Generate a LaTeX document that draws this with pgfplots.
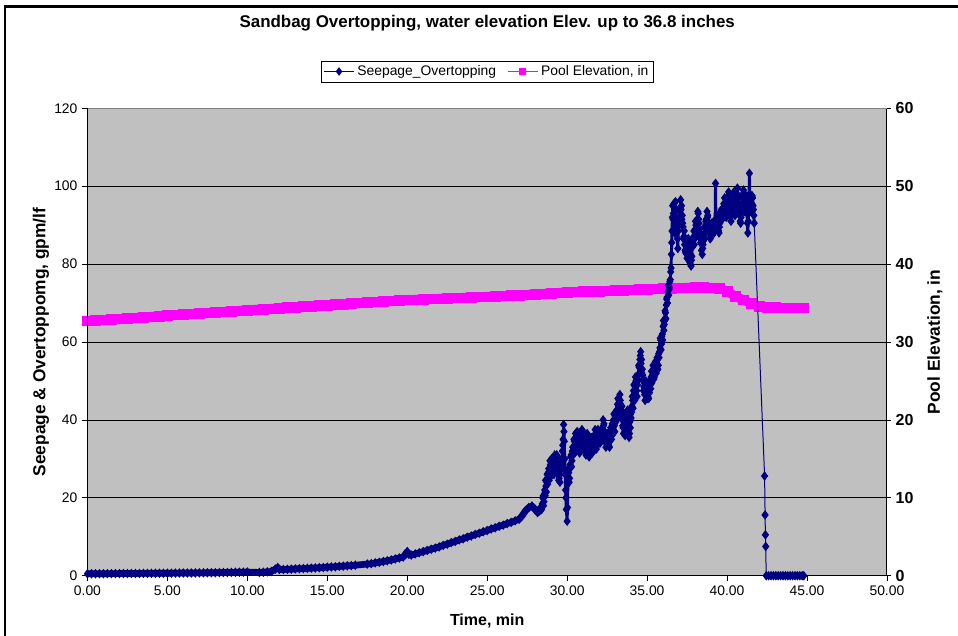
\documentclass[border=0pt]{standalone}
\usepackage{fontspec}
\setmainfont{Liberation Sans}
\usepackage{pgfplots}
\usepackage{pgfplotstable}
\pgfplotsset{compat=1.18}
\definecolor{xlnavy}{RGB}{0,0,128}
\definecolor{xlpink}{RGB}{255,0,255}
\definecolor{xlgray}{RGB}{192,192,192}

% pool elevation, inches
\pgfplotstableread{
t elev
0.0 32.70
0.5 32.77
1.0 32.84
1.5 32.91
2.0 32.98
2.5 33.05
3.0 33.12
3.5 33.19
4.0 33.26
4.5 33.33
5.0 33.40
5.5 33.47
6.0 33.54
6.5 33.61
7.0 33.68
7.5 33.75
8.0 33.82
8.5 33.89
9.0 33.96
9.5 34.03
10.0 34.10
10.5 34.16
11.0 34.23
11.5 34.29
12.0 34.36
12.5 34.42
13.0 34.49
13.5 34.55
14.0 34.62
14.5 34.68
15.0 34.75
15.5 34.81
16.0 34.88
16.5 34.94
17.0 35.01
17.5 35.07
18.0 35.14
18.5 35.20
19.0 35.27
19.5 35.33
20.0 35.40
20.5 35.44
21.0 35.49
21.5 35.53
22.0 35.57
22.5 35.61
23.0 35.66
23.5 35.70
24.0 35.74
24.5 35.79
25.0 35.83
25.5 35.87
26.0 35.91
26.5 35.96
27.0 36.00
27.5 36.07
28.0 36.13
28.5 36.20
29.0 36.27
29.5 36.33
30.0 36.40
30.5 36.44
31.0 36.48
31.5 36.52
32.0 36.55
32.5 36.59
33.0 36.63
33.5 36.67
34.0 36.71
34.5 36.75
35.0 36.79
35.5 36.82
36.0 36.86
36.5 36.90
37.0 36.95
37.5 36.98
38.0 37.00
38.5 37.00
39.0 36.98
39.5 36.92
40.0 36.50
40.5 35.90
41.0 35.40
41.5 35.00
42.0 34.60
42.5 34.45
43.0 34.42
43.5 34.40
44.0 34.40
44.5 34.40
44.8 34.40
}\pool

% seepage and overtopping, gpm/lf
\pgfplotstableread{
t q
0.00 0.50
0.25 0.50
0.50 0.51
0.75 0.52
1.00 0.52
1.25 0.53
1.50 0.54
1.75 0.55
2.00 0.55
2.25 0.56
2.50 0.57
2.75 0.58
3.00 0.58
3.25 0.59
3.50 0.60
3.75 0.61
4.00 0.61
4.25 0.62
4.50 0.63
4.75 0.64
5.00 0.65
5.25 0.66
5.50 0.67
5.75 0.68
6.00 0.69
6.25 0.70
6.50 0.71
6.75 0.72
7.00 0.73
7.25 0.74
7.50 0.76
7.75 0.77
8.00 0.78
8.25 0.80
8.50 0.82
8.75 0.84
9.00 0.86
9.25 0.88
9.50 0.90
9.75 0.92
10.00 0.95
10.75 0.85
11.00 0.90
11.25 1.00
11.50 1.10
11.75 1.70
11.90 2.10
12.00 1.60
12.25 1.60
12.50 1.65
12.75 1.70
13.00 1.75
13.25 1.80
13.50 1.85
13.75 1.90
14.00 1.95
14.25 2.00
14.50 2.05
14.75 2.10
15.00 2.20
15.25 2.25
15.50 2.30
15.75 2.40
16.00 2.45
16.25 2.55
16.50 2.60
16.75 2.70
17.50 3.00
17.75 3.10
18.00 3.30
18.25 3.45
18.50 3.65
18.75 3.85
19.00 4.05
19.25 4.30
19.50 4.55
19.75 4.80
19.90 5.60
20.00 6.20
20.10 5.50
20.25 5.30
20.50 5.60
20.75 5.90
21.00 6.20
21.25 6.50
21.50 6.80
21.75 7.10
22.00 7.40
22.25 7.80
22.50 8.10
22.75 8.50
23.00 8.80
23.25 9.20
23.50 9.50
23.75 9.90
24.00 10.20
24.25 10.60
24.50 10.90
24.75 11.30
25.00 11.60
25.25 12.00
25.50 12.30
25.75 12.70
26.00 13.00
26.25 13.40
26.50 13.70
26.75 14.10
27.00 14.50
27.20 15.50
27.40 16.70
27.60 17.50
27.80 17.90
28.00 17.00
28.15 16.20
28.25 16.60
28.35 17.50
28.400 17.0
28.425 18.0
28.450 18.5
28.475 20.0
28.500 20.5
28.525 18.0
28.550 19.0
28.575 21.0
28.600 22.0
28.625 20.5
28.650 24.5
28.675 23.0
28.700 21.5
28.725 24.0
28.750 26.0
28.775 23.5
28.800 25.0
28.825 26.5
28.850 27.5
28.875 24.5
28.900 26.0
28.925 29.5
28.950 28.5
28.975 25.5
29.000 27.0
29.025 30.0
29.050 29.0
29.075 26.5
29.100 27.5
29.125 29.5
29.150 30.0
29.175 26.0
29.200 28.0
29.225 31.0
29.250 30.5
29.275 27.5
29.300 29.0
29.325 30.5
29.350 31.0
29.375 29.0
29.400 28.5
29.425 26.0
29.450 27.0
29.475 24.5
29.500 25.0
29.525 27.0
29.550 24.0
29.575 26.0
29.600 27.5
29.625 29.0
29.650 30.0
29.675 28.0
29.700 32.0
29.725 33.5
29.750 35.0
29.780 38.8
29.800 37.0
29.820 34.5
29.850 30.0
29.870 27.0
29.880 26.0
29.900 22.0
29.925 20.0
29.950 17.0
30.000 14.0
30.020 17.5
30.050 24.0
30.075 27.5
30.100 26.5
30.125 24.0
30.150 25.0
30.175 28.5
30.200 28.0
30.225 30.5
30.250 31.0
30.275 28.0
30.300 29.5
30.325 32.0
30.350 33.0
30.375 31.0
30.400 32.0
30.425 35.0
30.450 34.5
30.475 31.5
30.500 33.0
30.525 36.5
30.550 35.5
30.575 32.5
30.600 34.0
30.625 37.0
30.650 36.0
30.675 33.0
30.700 33.5
30.725 36.5
30.750 35.0
30.775 31.5
30.800 32.5
30.825 35.5
30.850 34.0
30.875 33.0
30.900 36.5
30.925 37.5
30.950 35.0
30.975 33.5
31.000 37.0
31.025 36.0
31.050 35.5
31.075 32.5
31.100 33.5
31.125 35.0
31.150 32.0
31.175 31.0
31.200 34.5
31.225 35.5
31.250 36.5
31.275 33.5
31.300 35.0
31.325 34.0
31.350 32.5
31.375 30.5
31.400 31.0
31.425 32.0
31.450 33.0
31.475 35.0
31.500 35.5
31.525 33.0
31.550 34.0
31.575 31.5
31.600 32.0
31.625 34.5
31.650 33.5
31.675 35.5
31.700 36.0
31.725 34.5
31.750 37.5
31.775 36.5
31.800 35.0
31.825 32.5
31.850 33.5
31.875 35.5
31.900 35.0
31.925 37.5
31.950 36.5
31.975 34.5
32.000 36.0
32.025 35.0
32.050 34.0
32.075 36.0
32.100 37.0
32.125 34.5
32.150 35.5
32.175 37.5
32.200 38.0
32.225 36.5
32.250 40.0
32.275 38.5
32.300 39.0
32.325 36.0
32.350 37.0
32.375 34.5
32.400 35.0
32.425 33.0
32.450 34.0
32.475 35.5
32.500 36.5
32.525 34.0
32.550 35.0
32.575 33.5
32.600 33.5
32.625 36.0
32.650 33.0
32.675 35.5
32.700 35.0
32.725 38.0
32.750 37.5
32.775 35.0
32.800 36.0
32.825 39.0
32.850 38.0
32.875 36.5
32.900 40.0
32.925 41.5
32.950 38.5
32.975 37.0
33.000 41.0
33.025 42.0
33.050 39.5
33.075 40.5
33.100 42.5
33.125 41.0
33.150 44.0
33.175 45.5
33.200 42.0
33.225 43.5
33.250 45.0
33.275 43.0
33.300 46.5
33.325 45.0
33.350 44.0
33.375 41.0
33.400 42.5
33.425 43.5
33.450 40.0
33.475 38.5
33.500 38.0
33.525 36.5
33.550 40.5
33.575 41.5
33.600 39.0
33.625 36.0
33.650 37.0
33.675 40.0
33.700 38.5
33.725 37.0
33.750 41.0
33.775 42.5
33.800 39.5
33.825 38.5
33.850 37.5
33.875 35.5
33.900 36.5
33.925 39.5
33.950 38.0
33.975 41.5
34.000 40.5
34.025 42.0
34.050 43.5
34.075 46.0
34.100 45.0
34.125 43.0
34.150 47.5
34.175 49.0
34.200 46.0
34.225 45.0
34.250 48.5
34.275 51.0
34.300 50.0
34.325 49.0
34.350 47.5
34.375 46.0
34.400 49.0
34.425 50.0
34.450 51.5
34.475 54.0
34.500 53.5
34.525 52.0
34.550 55.5
34.575 56.5
34.600 57.5
34.625 54.5
34.650 55.5
34.675 52.0
34.700 53.0
34.725 51.5
34.750 50.5
34.775 47.5
34.800 48.5
34.825 49.5
34.850 46.5
34.875 45.0
34.900 47.5
34.925 50.0
34.950 49.5
34.975 47.0
35.000 48.0
35.025 45.5
35.050 46.0
35.075 48.0
35.100 45.5
35.125 49.0
35.150 47.0
35.175 50.0
35.200 49.0
35.225 48.0
35.250 51.0
35.275 52.5
35.300 49.5
35.325 50.5
35.350 51.5
35.375 54.0
35.400 53.0
35.425 50.5
35.450 51.0
35.475 53.5
35.500 52.5
35.525 55.0
35.550 54.5
35.575 52.0
35.600 53.0
35.625 56.0
35.650 55.5
35.675 53.0
35.700 54.0
35.725 57.0
35.750 56.0
35.775 57.5
35.800 58.5
35.825 61.0
35.850 60.5
35.875 58.0
35.900 59.5
35.925 61.5
35.950 62.0
35.975 60.5
36.000 64.0
36.025 65.5
36.050 63.0
36.075 64.5
36.100 65.5
36.125 68.0
36.150 67.5
36.175 66.0
36.200 69.5
36.225 71.0
36.250 71.5
36.275 70.0
36.300 73.0
36.325 74.5
36.350 72.0
36.375 73.5
36.400 74.0
36.425 75.5
36.450 76.0
36.475 78.0
36.500 79.0
36.520 82.5
36.540 85.5
36.560 88.5
36.580 92.0
36.600 95.0
36.625 91.5
36.650 93.0
36.675 95.5
36.700 91.0
36.725 88.0
36.750 94.5
36.775 96.0
36.800 92.0
36.825 90.0
36.850 89.0
36.875 91.5
36.900 86.5
36.925 84.0
36.950 88.5
36.975 90.5
37.000 91.5
37.025 93.5
37.050 94.0
37.075 92.0
37.100 96.5
37.125 94.0
37.150 95.0
37.175 91.5
37.200 92.5
37.225 90.5
37.250 89.5
37.275 86.5
37.300 87.0
37.325 88.5
37.350 85.0
37.375 83.5
37.400 83.0
37.425 86.5
37.450 85.5
37.475 82.5
37.500 81.5
37.525 83.0
37.550 84.0
37.575 86.5
37.600 86.0
37.625 84.0
37.650 82.5
37.675 80.5
37.700 80.0
37.725 82.5
37.750 79.5
37.775 81.0
37.800 82.0
37.825 85.0
37.850 84.5
37.875 86.0
37.900 87.0
37.925 88.5
37.950 85.0
37.975 86.5
38.000 88.5
38.025 91.0
38.050 90.0
38.075 88.0
38.100 87.5
38.125 89.5
38.150 91.0
38.175 93.5
38.200 93.0
38.225 91.5
38.250 90.5
38.275 89.0
38.300 88.0
38.325 86.5
38.350 85.5
38.375 87.0
38.400 83.5
38.425 85.0
38.450 82.5
38.475 84.0
38.500 85.0
38.525 86.0
38.550 87.5
38.575 89.5
38.600 86.5
38.625 88.0
38.650 89.0
38.675 91.0
38.700 91.5
38.725 90.0
38.750 93.5
38.775 92.0
38.800 92.5
38.825 90.5
38.850 90.0
38.875 88.0
38.900 88.5
38.925 90.0
38.950 86.5
38.975 87.0
39.000 88.0
39.025 90.5
39.050 89.5
39.075 88.5
39.100 87.5
39.125 89.5
39.150 89.0
39.175 91.0
39.200 90.5
39.225 88.5
39.250 89.0
39.280 100.7
39.310 89.5
39.330 90.5
39.350 91.0
39.375 89.5
39.400 92.5
39.425 91.0
39.450 90.0
39.475 88.5
39.500 88.0
39.525 89.5
39.550 90.5
39.575 92.5
39.600 92.0
39.625 93.5
39.650 94.0
39.675 92.5
39.700 91.5
39.725 92.0
39.750 93.0
39.775 94.5
39.800 95.5
39.825 94.0
39.850 97.0
39.875 95.0
39.900 94.5
39.925 93.0
39.950 92.0
39.975 94.5
40.000 93.5
40.025 95.0
40.050 96.0
40.075 97.5
40.100 98.5
40.125 95.5
40.150 96.5
40.175 93.0
40.200 94.0
40.225 92.0
40.250 91.0
40.275 93.0
40.300 93.5
40.325 96.0
40.350 95.5
40.375 94.0
40.400 97.5
40.425 98.5
40.450 95.0
40.475 93.5
40.500 92.5
40.525 95.5
40.550 94.5
40.575 96.0
40.600 97.0
40.625 98.0
40.650 99.5
40.675 96.0
40.700 97.5
40.725 94.0
40.750 95.0
40.775 93.5
40.800 92.5
40.825 91.0
40.850 90.5
40.875 92.0
40.900 93.0
40.925 94.5
40.950 95.5
40.975 97.0
41.000 98.0
41.025 99.0
41.050 96.0
41.075 94.5
41.100 93.5
41.125 96.5
41.150 95.0
41.175 96.5
41.200 97.5
41.225 95.0
41.250 93.0
41.275 90.5
41.300 88.0
41.325 91.0
41.350 94.0
41.375 96.5
41.400 103.3
41.425 98.0
41.450 96.0
41.475 94.0
41.500 93.5
41.525 95.0
41.550 95.5
41.575 97.5
41.600 97.0
41.625 95.0
41.650 94.0
41.675 92.5
41.700 90.5
42.35 25.6
42.38 15.6
42.40 10.5
42.42 7.5
42.45 0.0
42.60 0.0
42.75 0.0
42.90 0.0
43.05 0.0
43.20 0.0
43.35 0.0
43.50 0.0
43.65 0.0
43.80 0.0
43.95 0.0
44.10 0.0
44.25 0.0
44.40 0.0
44.55 0.0
44.70 0.0
44.80 0.0
}\seep

\begin{document}
\begin{tikzpicture}
\pgfplotsset{
  every axis/.append style={
    scale only axis, width=599.6pt, height=350.6pt,
    xmin=0, xmax=50,
    /pgf/number format/assume math mode=true,
  }
}
% right axis: pool elevation, background and grid
\begin{axis}[
  axis x line=none,
  axis y line*=right,
  ymin=0, ymax=60, ytick={0,10,...,60},
  ymajorgrids, grid style={black, line width=0.6pt},
  axis background/.style={fill=xlgray},
  tick align=center, major tick length=6pt,
  tick style={black, line width=0.6pt},
  axis line style={-, black, line width=0.8pt},
  yticklabel style={font=\fontsize{12}{14}\selectfont\bfseries},
  ylabel={Pool Elevation, in},
  every axis y label/.style={at={(axis description cs:1.060,0.5)}, rotate=90, anchor=center,
    font=\fontsize{13}{15}\selectfont\bfseries},
]
\addplot[xlpink, line width=7pt, mark=square*, mark size=3.6pt,
  mark options={draw=xlpink, fill=xlpink, line width=0.4pt}] table[x=t, y=elev] {\pool};
\draw[gray, line width=0.5pt] (rel axis cs:0,1) -- (rel axis cs:1,1);
\end{axis}

% left axis: seepage, x axis, title and legend
\begin{axis}[
  axis x line*=bottom, axis y line*=left,
  clip=false,
  ymin=0, ymax=120, ytick={0,20,...,120},
  xtick={0,5,...,50},
  tick align=outside, major tick length=4pt,
  tick style={black, line width=0.6pt},
  axis line style={-, black, line width=0.8pt},
  xticklabel style={font=\fontsize{10.4}{12}\selectfont,
    /pgf/number format/.cd, fixed, fixed zerofill, precision=2},
  yticklabel style={font=\fontsize{10.4}{12}\selectfont},
  xlabel={Time, min},
  every axis x label/.style={at={(axis description cs:0.5,-0.097)}, anchor=center,
    font=\fontsize{12}{14}\selectfont\bfseries},
  ylabel={Seepage \& Overtoppomg, gpm/lf},
  every axis y label/.style={at={(axis description cs:-0.0582,0.5)}, rotate=90, anchor=center,
    font=\fontsize{13}{15}\selectfont\bfseries},
  title={Sandbag Overtopping, water elevation Elev. up to 36.8 inches},
  title style={at={(axis description cs:0.5,1.165)}, anchor=center,
    font=\fontsize{12.7}{15}\selectfont\bfseries},
  legend image code/.code={\draw[mark repeat=2, mark phase=2]
    plot coordinates {(0cm,0cm) (0.4cm,0cm) (0.8cm,0cm)};},
  legend style={at={(axis description cs:0.5,1.0787)}, anchor=center,
    legend columns=2, draw=black, fill=white, inner sep=1.5pt,
    font=\fontsize{10.4}{12}\selectfont,
    /tikz/every even column/.append style={column sep=6pt}},
]
% dense marker mass: the same points, drawn as a thick band underneath
\addplot[xlnavy, line width=5pt, line join=round, forget plot,
  restrict x to domain=0:28.36] table[x=t, y=q] {\seep};
\addplot[xlnavy, line width=2.2pt, line join=round, forget plot,
  restrict x to domain=28.39:41.71] table[x=t, y=q] {\seep};
\addplot[xlnavy, line width=0.75pt, mark=diamond*, mark size=3pt,
  mark options={draw=xlnavy, fill=xlnavy}, forget plot] table[x=t, y=q] {\seep};
\addlegendimage{xlnavy, line width=0.75pt, mark=diamond*, mark size=2.6pt,
  mark options={draw=xlnavy, fill=xlnavy}}
\addlegendentry{Seepage\_Overtopping}
\addlegendimage{xlpink, line width=1pt, mark=square*, mark size=2.3pt,
  mark options={draw=xlpink, fill=xlpink}}
\addlegendentry{Pool Elevation, in}
\end{axis}

% outer chart frame (cut by the page at right and bottom)
\draw[black, line width=1.8pt] (-61.9pt,-60pt) -- (-61.9pt,426.9pt) -- (700pt,426.9pt);
\pgfresetboundingbox
\useasboundingbox (-65.6pt,-44.5pt) rectangle (652.9pt,431.8pt);
\end{tikzpicture}
\end{document}
